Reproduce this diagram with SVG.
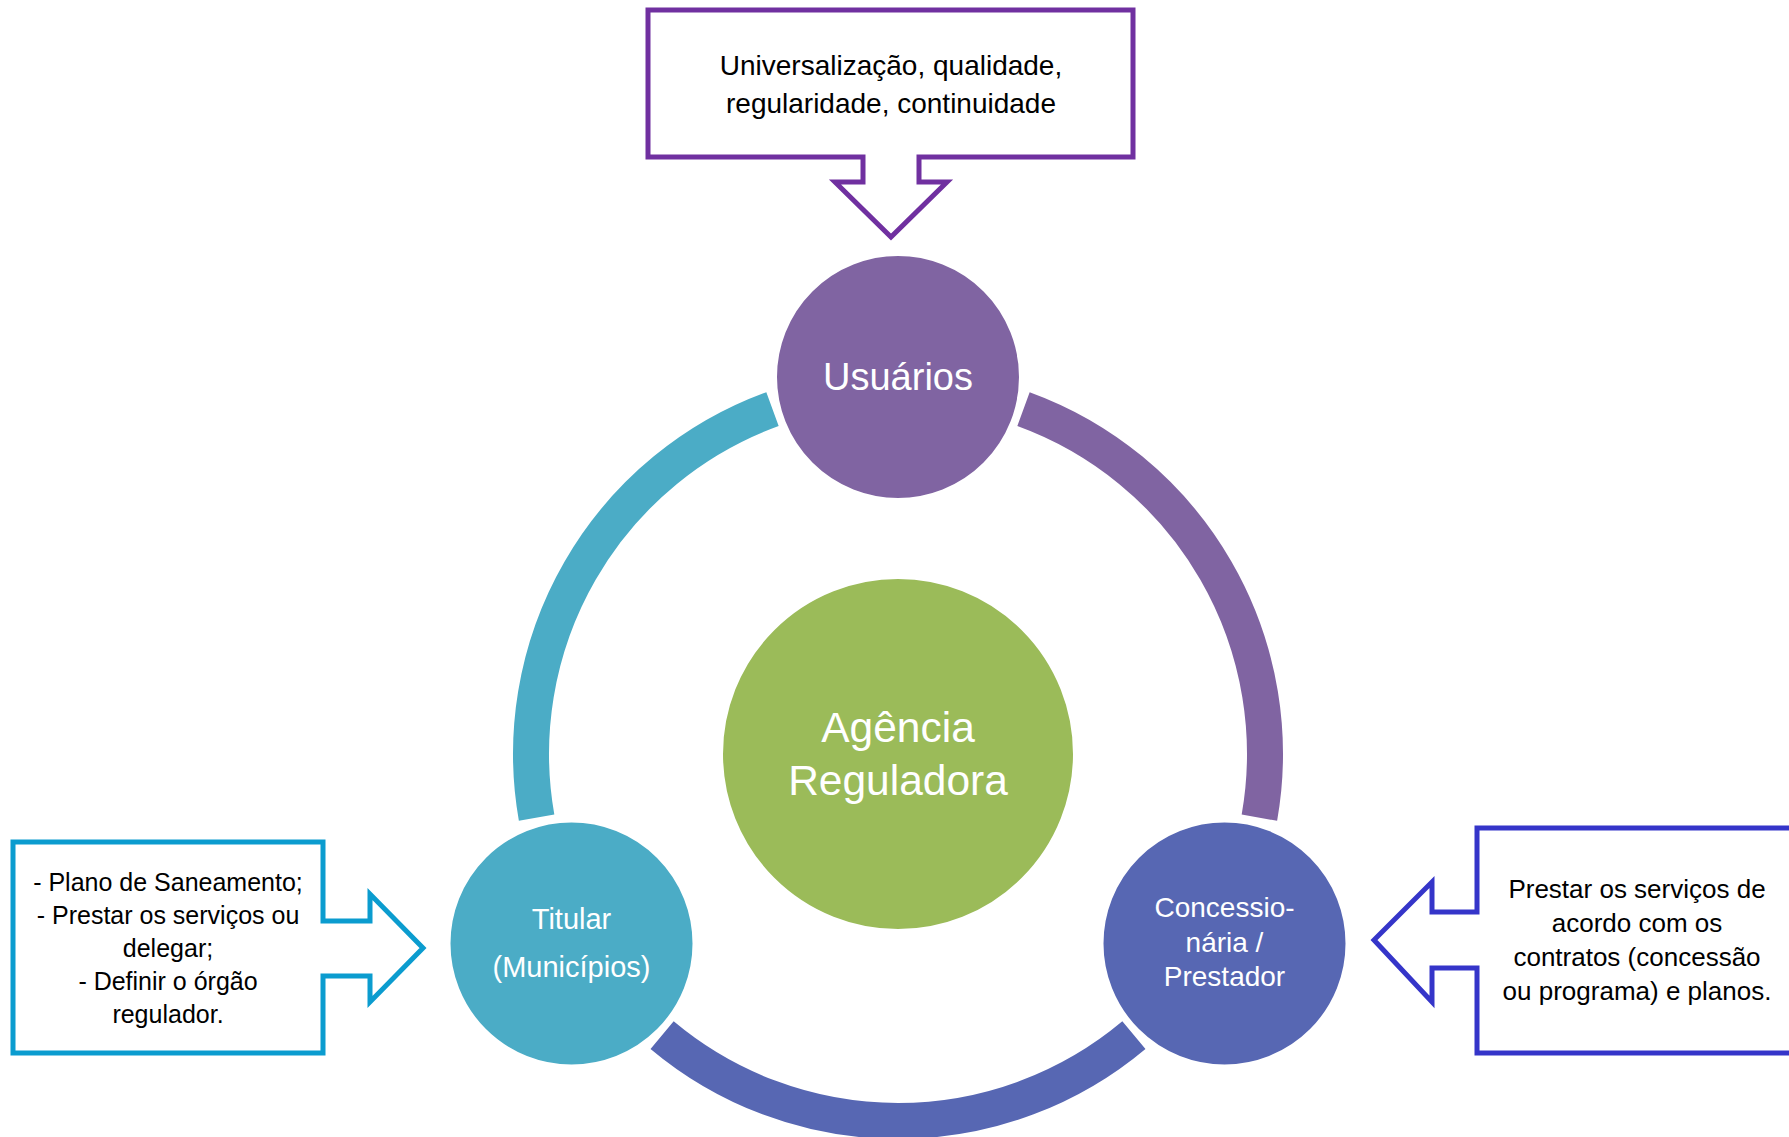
<svg xmlns="http://www.w3.org/2000/svg" width="1789" height="1137" viewBox="0 0 1789 1137">
<style>
.arc{fill:none;stroke-width:36;stroke-linecap:butt}
.node{stroke:#ffffff;stroke-width:4}
.nt{font-family:"Liberation Sans",Arial,sans-serif;fill:#ffffff;text-anchor:middle}
.bt{font-family:"Liberation Sans",Arial,sans-serif;fill:#000000;text-anchor:middle}
.call{fill:#ffffff;stroke-width:5;stroke-linejoin:miter}
</style>
<rect width="1789" height="1137" fill="#ffffff"/>
<g id="connectors">
<path class="arc" stroke="#4BACC6" d="M536.6,817.7 A367,367 0 0 1 772.5,409.1"/>
<path class="arc" stroke="#8064A2" d="M1023.5,409.1 A367,367 0 0 1 1259.4,817.7"/>
<path class="arc" stroke="#5767B3" d="M1133.9,1035.1 A367,367 0 0 1 662.1,1035.1"/>
</g>
<g id="agencia">
<circle class="node" cx="898" cy="754" r="177" fill="#9BBB59"/>
<text class="nt" x="898" y="742" font-size="42.5">Agência</text>
<text class="nt" x="898" y="795" font-size="42.5">Reguladora</text>
</g>
<g id="usuarios">
<circle class="node" cx="898" cy="377" r="123" fill="#8064A2"/>
<text class="nt" x="898" y="390" font-size="38">Usuários</text>
</g>
<g id="titular">
<circle class="node" cx="571.5" cy="943.5" r="123" fill="#4BACC6"/>
<text class="nt" x="571.5" y="929" font-size="29">Titular</text>
<text class="nt" x="571.5" y="977" font-size="29">(Municípios)</text>
</g>
<g id="concessionaria">
<circle class="node" cx="1224.5" cy="943.5" r="123" fill="#5767B3"/>
<text class="nt" x="1224.5" y="917" font-size="28">Concessio-</text>
<text class="nt" x="1224.5" y="952" font-size="28">nária /</text>
<text class="nt" x="1224.5" y="986" font-size="28">Prestador</text>
</g>
<g id="callout-usuarios">
<path class="call" stroke="#7030A0" d="M648,10 H1133 V157 H919 V182 H947 L891,237 L835,182 H863 V157 H648 Z"/>
<text class="bt" x="891" y="75" font-size="28">Universalização, qualidade,</text>
<text class="bt" x="891" y="113" font-size="28">regularidade, continuidade</text>
</g>
<g id="callout-titular">
<path class="call" stroke="#0B9CCF" d="M13,842 H323 V921 H370 V894 L423,948 L370,1002 V976 H323 V1053 H13 Z"/>
<text class="bt" x="168" y="891" font-size="25">- Plano de Saneamento;</text>
<text class="bt" x="168" y="924" font-size="25">- Prestar os serviços ou</text>
<text class="bt" x="168" y="957" font-size="25">delegar;</text>
<text class="bt" x="168" y="990" font-size="25">- Definir o órgão</text>
<text class="bt" x="168" y="1023" font-size="25">regulador.</text>
</g>
<g id="callout-concessionaria">
<path class="call" stroke="#3535C9" d="M1477,828 H1800 V1053 H1477 V968 H1432 V1002 L1374,940 L1432,882 V912 H1477 Z"/>
<text class="bt" x="1637" y="898" font-size="26">Prestar os serviços de</text>
<text class="bt" x="1637" y="932" font-size="26">acordo com os</text>
<text class="bt" x="1637" y="966" font-size="26">contratos (concessão</text>
<text class="bt" x="1637" y="1000" font-size="26">ou programa) e planos.</text>
</g>
</svg>
